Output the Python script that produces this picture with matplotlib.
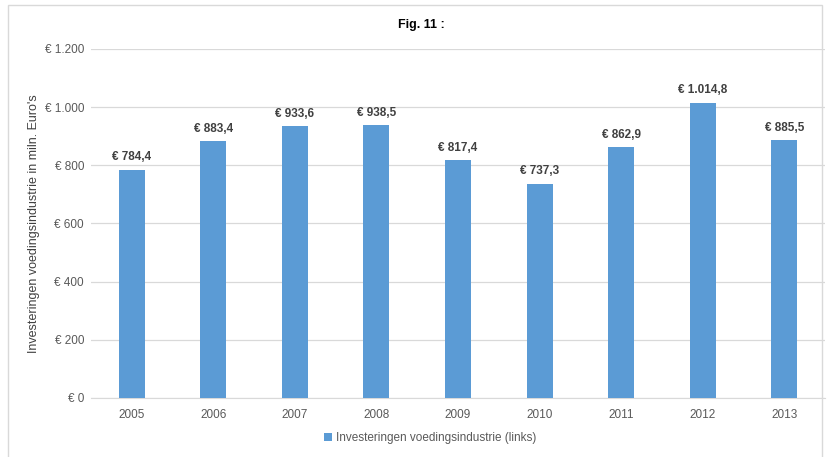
import matplotlib.pyplot as plt
from matplotlib.patches import Rectangle

plt.rcParams['font.family'] = ['Liberation Sans Narrow', 'Liberation Sans', 'DejaVu Sans']

years = ['2005', '2006', '2007', '2008', '2009', '2010', '2011', '2012', '2013']
invest = [784.4, 883.4, 933.6, 938.5, 817.4, 737.3, 862.9, 1014.8, 885.5]
yticks = [0, 200, 400, 600, 800, 1000, 1200]


def eur(v, dec=1):
    s = f"{v:,.{dec}f}".replace(',', 'X').replace('.', ',').replace('X', '.')
    return '€ ' + s


fig = plt.figure(figsize=(8.27, 4.57), dpi=100)
fig.patches.append(Rectangle((8 / 827, -0.01), 814 / 827, 1 - 5 / 457 + 0.01,
                             transform=fig.transFigure, fill=False,
                             edgecolor='#D9D9D9', lw=1))
ax = fig.add_axes([91 / 827, 1 - 398 / 457, 734 / 827, 349 / 457])

x = range(len(years))
bars = ax.bar(x, invest, width=0.32, color='#5B9BD5', zorder=3,
              label='Investeringen voedingsindustrie (links)')
for xi, v in zip(x, invest):
    ax.text(xi, v + 22, eur(v), ha='center', va='bottom', fontsize=8.5,
            fontweight='bold', color='#404040')

ax.set_xlim(-0.5, len(years) - 0.5)
ax.set_ylim(0, 1200)
ax.set_yticks(yticks)
ax.set_yticklabels([eur(t, 0) for t in yticks])
ax.set_xticks(list(x))
ax.set_xticklabels(years)
ax.grid(axis='y', color='#D9D9D9', lw=0.9, zorder=0)
for s in ['top', 'right', 'left']:
    ax.spines[s].set_visible(False)
ax.spines['bottom'].set_color('#D9D9D9')
ax.tick_params(length=0, labelsize=8.5, colors='#595959', pad=8)
ax.tick_params(axis='y', pad=5)
ax.set_ylabel("Investeringen voedingsindustrie in miln. Euro's", fontsize=9,
              color='#404040')
ax.yaxis.set_label_coords(-51 / 734, 0.5)

fig.text(421 / 827, 1 - 25 / 457, 'Fig. 11 :', ha='center', va='center',
         fontsize=9, fontweight='bold', color='#000000')
fig.legend(loc='center', bbox_to_anchor=(430 / 827, 1 - 438 / 457), frameon=False,
           fontsize=8.5, handlelength=0.7, handleheight=0.7, handletextpad=0.3,
           labelcolor='#595959')

fig.savefig('out.png', dpi=100)
